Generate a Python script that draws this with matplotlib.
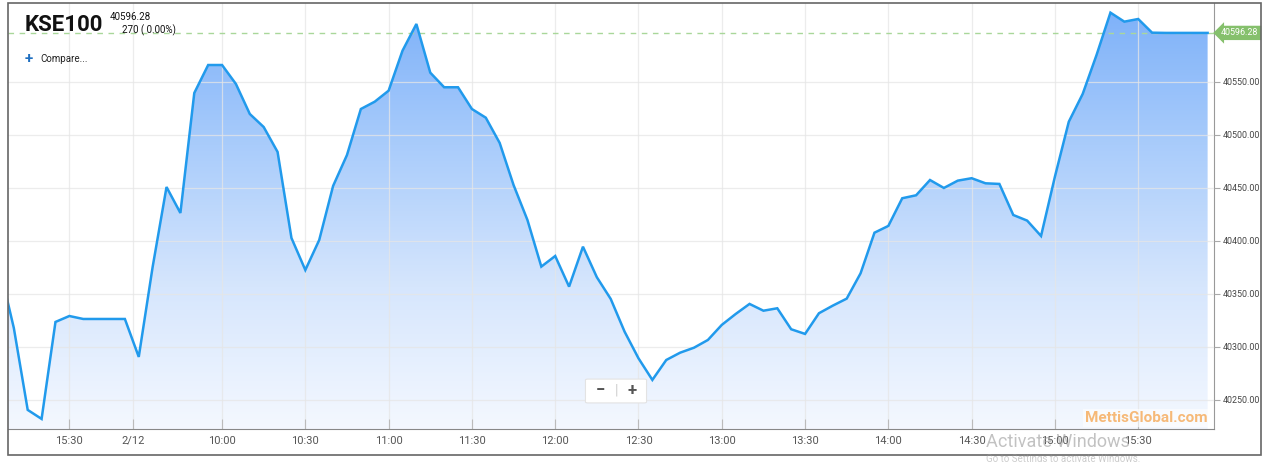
import numpy as np
import matplotlib.pyplot as plt
from matplotlib.colors import LinearSegmentedColormap
from matplotlib.patches import PathPatch, Rectangle, FancyBboxPatch

plt.rcParams['font.family'] = ['Roboto', 'DejaVu Sans']

# 5-minute KSE100 quotes: tail of previous session, then 2/12
times = ["15:05", "15:10", "15:15", "15:20", "15:25", "15:30", "15:35", "15:40", "15:45", "15:50",
         "09:30", "09:35", "09:40", "09:45", "09:50", "09:55", "10:00", "10:05", "10:10", "10:15",
         "10:20", "10:25", "10:30", "10:35", "10:40", "10:45", "10:50", "10:55", "11:00", "11:05",
         "11:10", "11:15", "11:20", "11:25", "11:30", "11:35", "11:40", "11:45", "11:50", "11:55",
         "12:00", "12:05", "12:10", "12:15", "12:20", "12:25", "12:30", "12:35", "12:40", "12:45",
         "12:50", "12:55", "13:00", "13:05", "13:10", "13:15", "13:20", "13:25", "13:30", "13:35",
         "13:40", "13:45", "13:50", "13:55", "14:00", "14:05", "14:10", "14:15", "14:20", "14:25",
         "14:30", "14:35", "14:40", "14:45", "14:50", "14:55", "15:00", "15:05", "15:10", "15:15",
         "15:20", "15:25", "15:30", "15:35", "15:40", "15:45", "15:50", "15:55"]
values = [40373.6, 40317.9, 40240.6, 40232.1, 40323.6, 40329.2, 40326.4, 40326.4, 40326.4, 40326.4,
          40290.6, 40375.5, 40450.9, 40426.4, 40539.6, 40566.0, 40566.0, 40548.1, 40519.8, 40507.5,
          40484.0, 40402.8, 40372.6, 40400.9, 40451.9, 40481.1, 40524.5, 40531.4, 40541.8, 40579.5,
          40604.7, 40558.8, 40545.0, 40545.0, 40524.5, 40516.3, 40492.5, 40452.8, 40419.8, 40375.8,
          40385.8, 40356.9, 40394.6, 40365.8, 40345.3, 40314.4, 40289.3, 40268.9, 40287.7, 40294.6,
          40299.3, 40306.6, 40320.8, 40331.1, 40340.6, 40334.2, 40336.5, 40316.7, 40312.3, 40331.8,
          40339.0, 40345.6, 40369.5, 40407.8, 40414.2, 40440.3, 40443.1, 40457.5, 40450.0, 40456.9,
          40459.2, 40454.4, 40453.8, 40424.5, 40419.2, 40404.7, 40460.7, 40512.5, 40538.7, 40575.5,
          40615.4, 40606.9, 40609.4, 40596.5, 40596.28, 40596.28, 40596.28, 40596.28]
last_price = 40596.28
change_text = "270 ( 0.00%)"
x_tick_labels = ["15:30", "2/12", "10:00", "10:30", "11:00", "11:30", "12:00", "12:30",
                 "13:00", "13:30", "14:00", "14:30", "15:00", "15:30"]
y_ticks = [40250, 40300, 40350, 40400, 40450, 40500, 40550]

W, H = 1268, 462
fig = plt.figure(figsize=(W / 100, H / 100), dpi=100)
ax = fig.add_axes([8 / W, (H - 429) / H, (1214 - 8) / W, (429 - 3) / H])

x = np.arange(len(values))
ymin, ymax = 40222.6, 40624.5
ax.set_xlim(0.58, 87.46)
ax.set_ylim(ymin, ymax)

# gradient area under the line
poly = ax.fill_between(x, values, ymin, color='none', lw=0)
cmap = LinearSegmentedColormap.from_list('blu', ['#f4f8ff', '#d6e6fd', '#a9ccfb', '#7cb0f9'])
grad = np.linspace(0, 1, 256).reshape(-1, 1)
img = ax.imshow(grad, extent=[x[0], x[-1], ymin, ymax], origin='lower', cmap=cmap,
                aspect='auto', zorder=1)
clip = PathPatch(poly.get_paths()[0], transform=ax.transData, fc='none', ec='none')
ax.add_patch(clip)
img.set_clip_path(clip)

ax.plot(x, values, color='#219aec', lw=1.8, zorder=4, solid_joinstyle='miter')

# previous close reference line
ax.axhline(last_price, color='#a9d79a', lw=1, ls=(0, (4, 4)), zorder=3)

# x ticks
tick_pos = []
for i, lab in enumerate(x_tick_labels):
    if i == 0:
        tick_pos.append(times.index(lab))
    elif lab == "2/12":
        tick_pos.append(times.index("09:30") - 0.4)
    else:
        tick_pos.append(times.index(lab, 10))
ax.set_xticks(tick_pos)
ax.set_xticklabels(x_tick_labels)
ax.tick_params(axis='x', direction='in', length=7, color='#bbbbbb', labelsize=8,
               labelcolor='#555555', pad=5)

ax.yaxis.tick_right()
ax.set_yticks(y_ticks)
ax.set_yticklabels([f"{v:.2f}" for v in y_ticks])
ax.tick_params(axis='y', direction='out', length=4, color='#aaaaaa', labelsize=6.4,
               labelcolor='#444444', pad=2)

ax.grid(True, color='#e6e6e6', lw=0.9, zorder=2, alpha=0.75)
ax.set_axisbelow(False)
for line in ax.get_xgridlines() + ax.get_ygridlines():
    line.set_zorder(2)

for s in ['top', 'left']:
    ax.spines[s].set_visible(False)
ax.spines['bottom'].set_color('#888888')
ax.spines['right'].set_color('#999999')
ax.spines['bottom'].set_zorder(5)

# price tag on the right axis
ax.text(1.006, last_price, f"{last_price:.2f}", transform=ax.get_yaxis_transform(),
        ha='left', va='center', fontsize=6.4, color='white', zorder=6, clip_on=False,
        bbox=dict(boxstyle='larrow,pad=0.3', fc='#85c06c', ec='none'))

# outer frame
fig.patches.append(Rectangle((8 / W, (H - 455) / H), (1261 - 8) / W, (455 - 3) / H,
                             transform=fig.transFigure, fill=False, ec='#666666', lw=1.2))

# header texts
fig.text(25 / W, 1 - 25 / H, "KSE100", fontsize=16, fontweight='bold', color='#111111',
         va='center', ha='left')
fig.text(110 / W, 1 - 17 / H, f"{last_price:.2f}", fontsize=7, color='#111111', va='center')
fig.text(122 / W, 1 - 30 / H, change_text, fontsize=7, color='#111111', va='center')
fig.text(25 / W, 1 - 59 / H, "+", fontsize=11, fontweight='bold', color='#1f6fc0', va='center')
fig.text(40 / W, 1 - 59 / H, "Compare...", fontsize=7, color='#222222', va='center')

# zoom buttons
btn = FancyBboxPatch((588 / W, 1 - 402 / H), 56 / W, 22 / H, boxstyle='round,pad=0.002',
                     transform=fig.transFigure, fc='white', ec='#e3e3e3', lw=0.8, zorder=10)
fig.patches.append(btn)
fig.text(600 / W, 1 - 391 / H, "\u2212", fontsize=12, fontweight='bold', color='#555555',
         ha='center', va='center', zorder=11)
fig.text(616 / W, 1 - 391 / H, "|", fontsize=10, color='#cccccc', ha='center', va='center',
         zorder=11)
fig.text(632 / W, 1 - 391 / H, "+", fontsize=12, fontweight='bold', color='#555555',
         ha='center', va='center', zorder=11)

# watermark
fig.text(1208 / W, 1 - 418 / H, "MettisGlobal.com", fontsize=11, fontweight='bold',
         color='#f6b978', ha='right', va='center', zorder=11,
         bbox=dict(boxstyle='square,pad=0.15', fc='white', ec='none', alpha=0.6))

fig.text(986 / W, 1 - 442 / H, "Activate Windows", fontsize=13, color='#9a9a9a', alpha=0.6,
         ha='left', va='center', zorder=12)
fig.text(986 / W, 1 - 459 / H, "Go to Settings to activate Windows.", fontsize=7,
         color='#9a9a9a', alpha=0.5, ha='left', va='center', zorder=12)

fig.savefig('out.png', dpi=100)
